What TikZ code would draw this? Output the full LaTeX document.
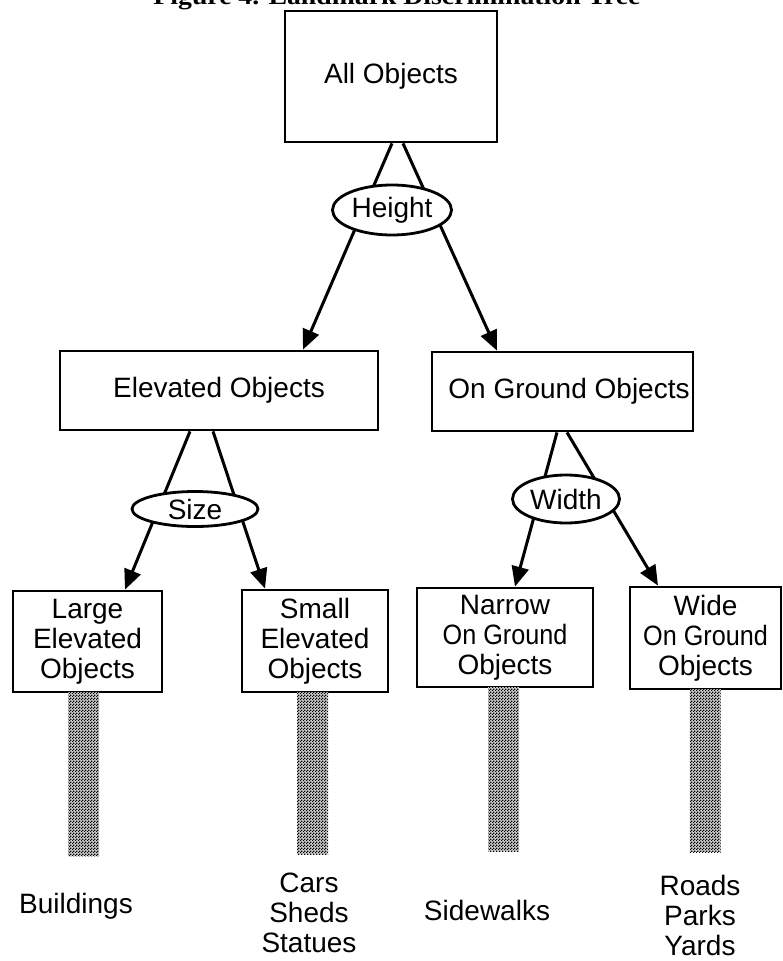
\documentclass[tikz,border=0pt]{standalone}
\usepackage{fontspec}
\setmainfont{Liberation Sans}
\newfontfamily\titlefont{Liberation Serif}
\usetikzlibrary{arrows.meta,shapes.geometric,patterns.meta}
\newcommand\lblfont{\fontsize{28}{30}\selectfont}
\pgfdeclarepattern{
  name=dither, type=uncolored,
  bottom left={\pgfpointorigin}, top right={\pgfpoint{3pt}{3pt}},
  tile size={\pgfpoint{3pt}{3pt}},
  code={
    \pgfpathrectangle{\pgfpointorigin}{\pgfpoint{1.6pt}{1.6pt}}
    \pgfpathrectangle{\pgfpoint{1.5pt}{1.5pt}}{\pgfpoint{1.6pt}{1.6pt}}
    \pgfusepath{fill}
  }}
\begin{document}
\begin{tikzpicture}[x=1pt,y=-1pt,
  box/.style={draw,line width=2.8pt,inner sep=0pt,align=center,font=\lblfont},
  oval/.style={ellipse,draw,line width=2.8pt,fill=white,inner sep=0pt,font=\lblfont},
  conn/.style={line width=3pt,-{Triangle[length=20pt,width=17pt]}},
  bar/.style={preaction={fill=black!20},pattern={dither},pattern color=black,inner sep=0pt,minimum width=31pt},
  leaf/.style={align=center,font=\lblfont,inner sep=0pt}]
\useasboundingbox (0,0) rectangle (783,961);
\clip (0,0) rectangle (783,961);
% title, cut off at the top edge as in the reference
\node[anchor=base,inner sep=0pt] (title) at (397,4)
  {\resizebox{487pt}{17pt}{\titlefont\bfseries Figure 4. Landmark Discrimination Tree}};
% boxes
\node[box,minimum width=212pt,minimum height=131pt] (all) at (391,76.5) {All Objects};
\node[box,minimum width=318pt,minimum height=79pt] (elev) at (219,390.5) {Elevated Objects};
\node[box,minimum width=261pt,minimum height=79pt] (ground) at (562.5,391.5) {\hspace*{13pt}On Ground Objects};
\node[box,minimum width=149pt,minimum height=101pt] (large) at (87.5,641.5) {Large\\Elevated\\Objects};
\node[box,minimum width=146pt,minimum height=102pt] (small) at (315,641) {Small\\Elevated\\Objects};
\node[box,minimum width=176pt,minimum height=99pt] (narrow) at (505,637.5) {Narrow\\\scalebox{0.9}[1]{On Ground}\\Objects};
\node[box,minimum width=151pt,minimum height=102pt] (wide) at (705.5,638) {Wide\\\scalebox{0.9}[1]{On Ground}\\Objects};
% connectors
\draw[conn] ([xshift=1pt]all.south) -- ([xshift=84pt]elev.north);
\draw[conn] ([xshift=12pt]all.south) -- ([xshift=-65.5pt]ground.north);
\draw[conn] ([xshift=-29pt]elev.south) -- ([xshift=37.5pt]large.north);
\draw[conn] ([xshift=-6pt]elev.south) -- ([xshift=-50pt]small.north);
\draw[conn] ([xshift=-5.5pt]ground.south) -- ([xshift=10pt]narrow.north);
\draw[conn] ([xshift=4.5pt]ground.south) -- ([xshift=-47.5pt]wide.north);
% discriminating attributes
\node[oval,minimum width=119pt,minimum height=50pt] (height) at (392,210) {Height};
\node[oval,minimum width=126pt,minimum height=35pt] (size) at (195,509) {Size};
\node[oval,minimum width=107pt,minimum height=48pt] (width) at (566,499) {Width};
% shaded bars
\node[bar,minimum height=164pt] (bar1) at (83.5,774) {};
\node[bar,minimum height=162pt] (bar2) at (312.5,773) {};
\node[bar,minimum height=164pt] (bar3) at (503.5,769) {};
\node[bar,minimum height=163pt] (bar4) at (705,770.5) {};
% examples
\node[leaf] (bld) at (76,906) {Buildings};
\node[leaf] (css) at (309,913) {Cars\\Sheds\\Statues};
\node[leaf] (sdw) at (487,910) {Sidewalks};
\node[leaf] (rpy) at (700,915) {Roads\\Parks\\Yards};
\end{tikzpicture}
\end{document}
